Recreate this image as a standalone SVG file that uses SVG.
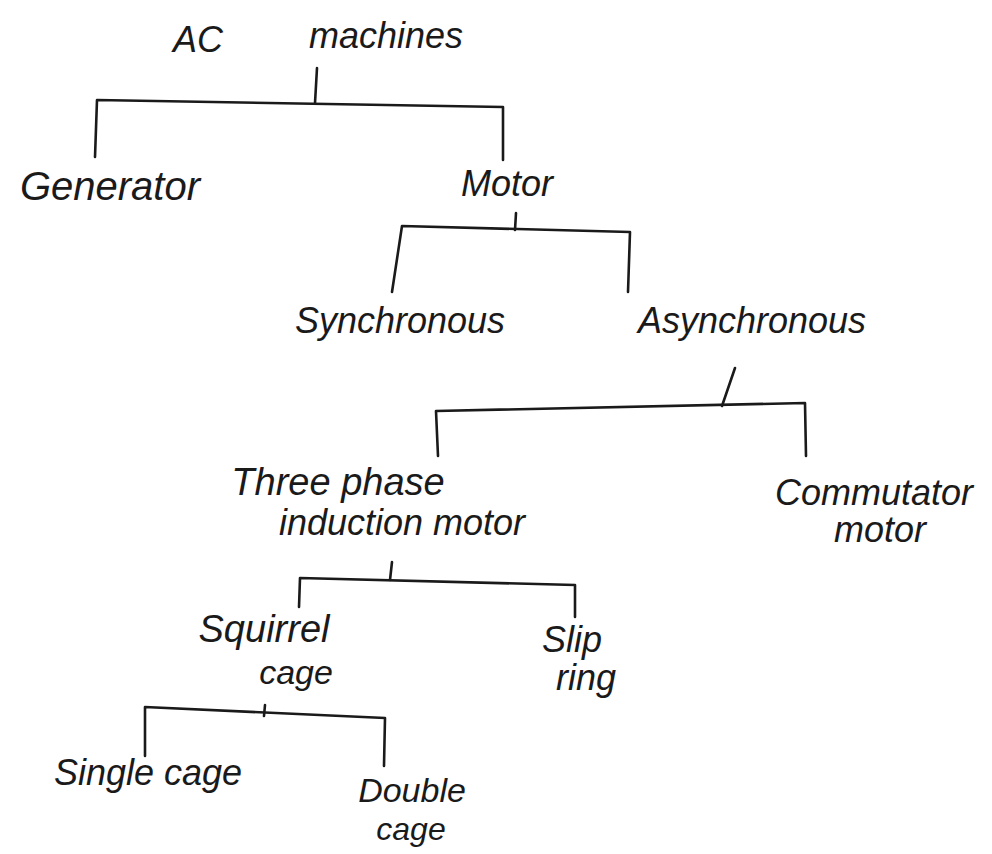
<svg xmlns="http://www.w3.org/2000/svg" width="992" height="854" viewBox="0 0 992 854">
<style>
.t{font-family:"Liberation Sans",Arial,sans-serif;font-size:36px;fill:#1a1a1a;font-style:italic;text-anchor:middle}
.c{fill:none;stroke:#1a1a1a;stroke-width:2.6;stroke-linecap:round;stroke-linejoin:round}
</style>
<rect width="992" height="854" fill="#ffffff"/>
<g id="connectors">
<path class="c" d="M317,68 L315,103"/>
<path class="c" d="M95,157 L97,100 L503,107 L503,160"/>
<path class="c" d="M516,213 L515,230"/>
<path class="c" d="M392,292 L402,226 L630,232 L628,292"/>
<path class="c" d="M735,368 L722,406"/>
<path class="c" d="M438,456 L436,411 L805,403 L806,456"/>
<path class="c" d="M392,562 L390,580"/>
<path class="c" d="M299,607 L300,578 L575,585 L575,617"/>
<path class="c" d="M265,705 L264,716"/>
<path class="c" d="M145,756 L145,707 L385,718 L384,766"/>
</g>
<g id="ac-machines"><text class="t" x="198" y="52">AC</text><text class="t" x="386" y="48">machines</text></g>
<g id="generator"><text class="t" x="110" y="200" style="font-size:40px">Generator</text></g>
<g id="motor"><text class="t" x="507" y="196">Motor</text></g>
<g id="synchronous"><text class="t" x="400" y="333">Synchronous</text></g>
<g id="asynchronous"><text class="t" x="752" y="333">Asynchronous</text></g>
<g id="three-phase"><text class="t" x="338" y="495" style="font-size:38px">Three phase</text><text class="t" x="402" y="535">induction motor</text></g>
<g id="commutator"><text class="t" x="874" y="505">Commutator</text><text class="t" x="880" y="542">motor</text></g>
<g id="squirrel-cage"><text class="t" x="264" y="642" style="font-size:38px">Squirrel</text><text class="t" x="296" y="684" style="font-size:34px">cage</text></g>
<g id="slip-ring"><text class="t" x="572" y="652">Slip</text><text class="t" x="586" y="690">ring</text></g>
<g id="single-cage"><text class="t" x="148" y="785">Single cage</text></g>
<g id="double-cage"><text class="t" x="412" y="802" style="font-size:34px">Double</text><text class="t" x="411" y="840" style="font-size:32px">cage</text></g>
</svg>
